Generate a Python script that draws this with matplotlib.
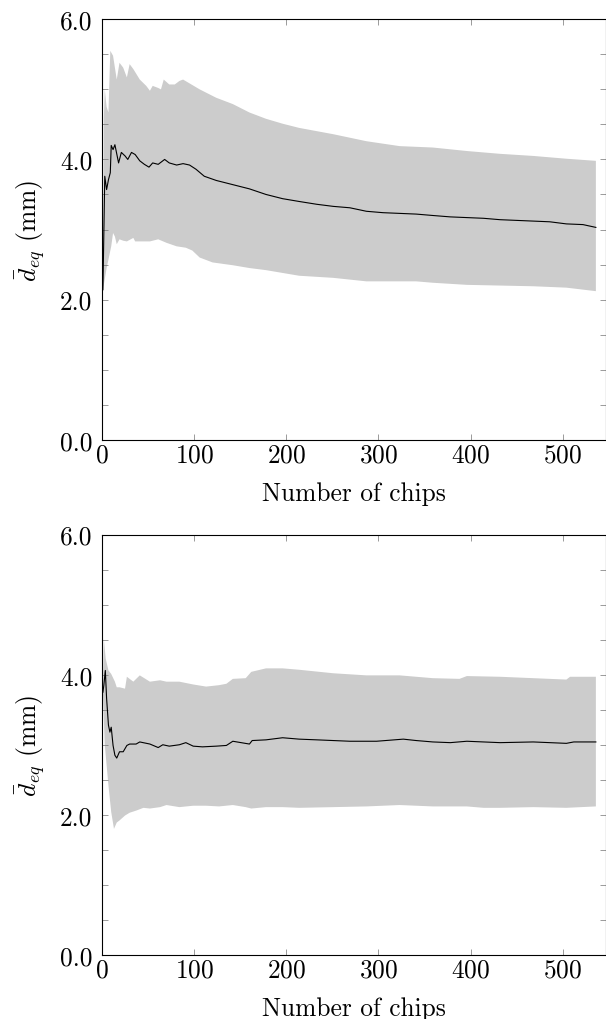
import numpy as np
import matplotlib
matplotlib.use("Agg")
import matplotlib.pyplot as plt
from matplotlib.ticker import FixedLocator, FixedFormatter

plt.rcParams['font.family'] = 'serif'
plt.rcParams['font.serif'] = ['cmr10', 'DejaVu Serif']
plt.rcParams['mathtext.fontset'] = 'cm'
plt.rcParams['axes.formatter.use_mathtext'] = True

# ---------------- data: top panel ----------------
top_mean_x = [1, 3, 5, 7, 9, 10, 12, 14, 18, 21, 25, 28, 32, 36, 41, 46, 51, 55, 61, 68, 73, 81,
              88, 95, 102, 111, 124, 142, 160, 178, 196, 214, 233, 251, 269, 287, 305, 323, 341,
              359, 378, 396, 414, 432, 450, 468, 486, 504, 522, 536]
top_mean_y = [2.14, 3.76, 3.57, 3.71, 3.81, 4.20, 4.14, 4.21, 3.95, 4.10, 4.05, 4.00, 4.10, 4.07,
              3.98, 3.93, 3.89, 3.95, 3.93, 4.00, 3.95, 3.92, 3.94, 3.92, 3.86, 3.76, 3.70, 3.64,
              3.58, 3.50, 3.44, 3.40, 3.36, 3.33, 3.31, 3.26, 3.24, 3.23, 3.22, 3.20, 3.18, 3.17,
              3.16, 3.14, 3.13, 3.12, 3.11, 3.08, 3.07, 3.03]

top_up_x = [1, 2, 3, 5, 7, 9, 12, 16, 19, 23, 27, 30, 34, 41, 48, 52, 55, 61, 64, 67, 73, 79, 84,
            88, 106, 124, 142, 160, 178, 196, 214, 251, 287, 323, 359, 396, 432, 468, 504, 536]
top_up_y = [2.14, 4.60, 5.00, 4.75, 4.67, 5.55, 5.48, 5.14, 5.38, 5.31, 5.17, 5.36, 5.29, 5.14,
            5.05, 4.98, 5.05, 5.02, 5.00, 5.14, 5.07, 5.07, 5.12, 5.14, 5.00, 4.88, 4.79, 4.67,
            4.58, 4.51, 4.45, 4.36, 4.26, 4.19, 4.17, 4.12, 4.08, 4.05, 4.01, 3.98]

top_lo_x = [1, 3, 5, 7, 10, 12, 14, 16, 19, 23, 27, 34, 36, 45, 52, 61, 70, 81, 91, 98, 106, 120,
            142, 160, 178, 196, 214, 251, 287, 323, 341, 359, 396, 432, 468, 504, 536]
top_lo_y = [2.14, 2.29, 2.45, 2.57, 2.76, 2.95, 2.90, 2.79, 2.86, 2.84, 2.83, 2.88, 2.83, 2.83,
            2.83, 2.86, 2.81, 2.76, 2.74, 2.70, 2.60, 2.53, 2.49, 2.45, 2.42, 2.38, 2.34, 2.31,
            2.26, 2.26, 2.26, 2.24, 2.21, 2.20, 2.19, 2.17, 2.12]

# ---------------- data: bottom panel ----------------
bot_mean_x = [1, 2, 3.6, 5, 7, 8.6, 10, 12, 14, 16, 19, 23, 27, 30, 37, 41, 52, 61, 66, 73, 84,
              91, 99, 109, 124, 135, 142, 160, 163, 178, 196, 214, 233, 251, 269, 298, 327, 341,
              359, 378, 396, 414, 432, 468, 504, 512, 536]
bot_mean_y = [3.75, 3.85, 4.06, 3.66, 3.28, 3.18, 3.25, 2.99, 2.85, 2.81, 2.90, 2.90, 2.99, 3.01,
              3.01, 3.04, 3.01, 2.96, 3.00, 2.98, 3.00, 3.03, 2.98, 2.97, 2.98, 2.99, 3.05, 3.01,
              3.06, 3.07, 3.10, 3.08, 3.07, 3.06, 3.05, 3.05, 3.08, 3.06, 3.04, 3.03, 3.05, 3.04,
              3.03, 3.04, 3.02, 3.04, 3.04]

bot_up_x = [1, 2, 4, 7, 10, 14, 16, 19, 25, 27, 30, 34, 41, 52, 63, 70, 84, 99, 113, 127, 135,
            142, 156, 162, 178, 196, 214, 251, 287, 323, 359, 388, 396, 432, 468, 504, 508, 536]
bot_up_y = [3.75, 4.51, 4.23, 4.06, 4.01, 3.90, 3.82, 3.82, 3.80, 3.97, 3.94, 3.90, 3.99, 3.90,
            3.92, 3.90, 3.90, 3.86, 3.83, 3.85, 3.87, 3.94, 3.95, 4.04, 4.09, 4.09, 4.07, 4.02,
            3.99, 3.99, 3.95, 3.94, 3.98, 3.97, 3.95, 3.93, 3.97, 3.97]

bot_lo_x = [1, 3, 7, 10, 13, 16, 19, 25, 30, 37, 45, 52, 63, 70, 84, 99, 113, 127, 142, 156, 162,
            178, 196, 214, 251, 287, 323, 359, 396, 414, 432, 468, 504, 536]
bot_lo_y = [3.75, 3.00, 2.42, 2.04, 1.80, 1.89, 1.92, 1.99, 2.03, 2.06, 2.10, 2.09, 2.11, 2.14,
            2.11, 2.13, 2.13, 2.12, 2.14, 2.11, 2.09, 2.11, 2.11, 2.10, 2.11, 2.12, 2.14, 2.12,
            2.12, 2.10, 2.10, 2.11, 2.10, 2.12]

x_ticks = [0, 100, 200, 300, 400, 500]
y_ticks = [0.0, 2.0, 4.0, 6.0]
y_tick_labels = ["0.0", "2.0", "4.0", "6.0"]
y_minor = [0.5, 1.0, 1.5, 2.5, 3.0, 3.5, 4.5, 5.0, 5.5]
xlabel = "Number of chips"
ylabel = r"$\bar{d}_{eq}$ (mm)"

W, H = 606, 1020
fig = plt.figure(figsize=(W / 100, H / 100), dpi=100)

def px_axes(left, top, right, bottom):
    return fig.add_axes([left / W, 1 - bottom / H, (right - left) / W, (bottom - top) / H])

ax1 = px_axes(102, 20.3, 606, 440.7)
ax2 = px_axes(102, 535.5, 606, 956)

panels = [
    (ax1, top_mean_x, top_mean_y, top_up_x, top_up_y, top_lo_x, top_lo_y),
    (ax2, bot_mean_x, bot_mean_y, bot_up_x, bot_up_y, bot_lo_x, bot_lo_y),
]

FS = 18.3
for ax, mx, my, ux, uy, lx, ly in panels:
    px = np.concatenate([ux, lx[::-1]])
    py = np.concatenate([uy, ly[::-1]])
    ax.fill(px, py, color="#cccccc", lw=0, zorder=1)
    ax.plot(mx, my, color="black", lw=0.8, zorder=2)
    ax.set_xlim(0, 547)
    ax.set_ylim(0, 6)
    ax.xaxis.set_major_locator(FixedLocator(x_ticks))
    ax.yaxis.set_major_locator(FixedLocator(y_ticks))
    ax.yaxis.set_major_formatter(FixedFormatter(y_tick_labels))
    ax.yaxis.set_minor_locator(FixedLocator(y_minor))
    ax.tick_params(which="both", direction="in", top=True, right=True, length=4.5,
                   width=0.5, color="0.45", labelsize=FS)
    ax.tick_params(axis="x", pad=2)
    ax.tick_params(axis="y", pad=7)
    for s in ax.spines.values():
        s.set_linewidth(0.8)
        s.set_color("black")
    ax.set_xlabel(xlabel, fontsize=FS, labelpad=10.5)
    ax.set_ylabel(ylabel, fontsize=FS, labelpad=9)

fig.savefig("out.png", dpi=100)
